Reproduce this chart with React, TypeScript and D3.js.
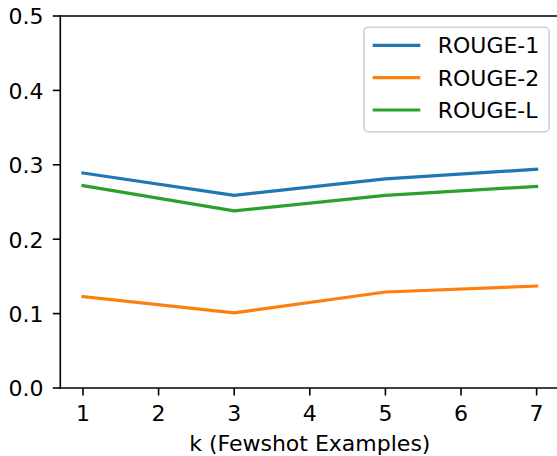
import React from "react";
import * as d3 from "d3";

const ks = [1, 3, 5, 7];
const rouge1 = [0.289, 0.259, 0.281, 0.294];
const rouge2 = [0.123, 0.101, 0.129, 0.137];
const rougeL = [0.272, 0.238, 0.259, 0.271];
const seriesNames = ["ROUGE-1", "ROUGE-2", "ROUGE-L"];
const seriesColors = ["#1f77b4", "#ff7f0e", "#2ca02c"];
const xTicks = [1, 2, 3, 4, 5, 6, 7];
const yTicks = [0, 0.1, 0.2, 0.3, 0.4, 0.5];
const xLabel = "k (Fewshot Examples)";

const W = 557;
const H = 456;
const left = 60.3;
const right = 559.3;
const top = 16;
const bottom = 388;
const FONT = "'DejaVu Sans', sans-serif";
const FS = 22;

export default function App() {
  const x = d3.scaleLinear().domain([0.7, 7.3]).range([left, right]);
  const y = d3.scaleLinear().domain([0, 0.5]).range([bottom, top]);
  const line = d3
    .line<number>()
    .x((_, i) => x(ks[i]))
    .y((d) => y(d));
  const series = [rouge1, rouge2, rougeL];

  const legX = 364;
  const legY = 27.3;
  const legW = 185;
  const legH = 104.4;
  const rowYs = [45.3, 77.7, 110];

  return (
    <svg
      width={W}
      height={H}
      style={{ position: "absolute", left: 0, top: 0, background: "#fff" }}
      fontFamily={FONT}
    >
      <rect x={0} y={0} width={W} height={H} fill="#fff" />
      {series.map((s, i) => (
        <path
          key={seriesNames[i]}
          d={line(s) || ""}
          fill="none"
          stroke={seriesColors[i]}
          strokeWidth={3.2}
          strokeLinejoin="round"
          strokeLinecap="square"
        />
      ))}
      {/* spines */}
      <line x1={left} y1={top} x2={left} y2={bottom} stroke="#000" strokeWidth={1.6} strokeLinecap="square" />
      <line x1={left} y1={bottom} x2={right} y2={bottom} stroke="#000" strokeWidth={1.6} strokeLinecap="square" />
      <line x1={left} y1={top} x2={right} y2={top} stroke="#000" strokeWidth={1.6} strokeLinecap="square" />
      <line x1={right} y1={top} x2={right} y2={bottom} stroke="#000" strokeWidth={1.6} strokeLinecap="square" />
      {/* y ticks */}
      {yTicks.map((t) => (
        <g key={"y" + t}>
          <line x1={left - 7.5} x2={left} y1={y(t)} y2={y(t)} stroke="#000" strokeWidth={1.6} />
          <text x={43.5} y={y(t) + 8.3} textAnchor="end" fontSize={FS} fill="#000">
            {t.toFixed(1)}
          </text>
        </g>
      ))}
      {/* x ticks */}
      {xTicks.map((t) => (
        <g key={"x" + t}>
          <line x1={x(t)} x2={x(t)} y1={bottom} y2={bottom + 7.5} stroke="#000" strokeWidth={1.6} />
          <text x={x(t)} y={bottom + 32.7} textAnchor="middle" fontSize={FS} fill="#000">
            {t}
          </text>
        </g>
      ))}
      <text x={(left + right) / 2} y={451} textAnchor="middle" fontSize={FS} fill="#000">
        {xLabel}
      </text>
      {/* legend */}
      <rect
        x={legX}
        y={legY}
        width={legW}
        height={legH}
        rx={4}
        ry={4}
        fill="#fff"
        fillOpacity={0.8}
        stroke="#d0d0d0"
        strokeWidth={1.6}
      />
      {seriesNames.map((n, i) => (
        <g key={n}>
          <line
            x1={372.7}
            x2={420.3}
            y1={rowYs[i]}
            y2={rowYs[i]}
            stroke={seriesColors[i]}
            strokeWidth={3.2}
          />
          <text x={437.7} y={rowYs[i] + 8} fontSize={FS} fill="#000">
            {n}
          </text>
        </g>
      ))}
    </svg>
  );
}
